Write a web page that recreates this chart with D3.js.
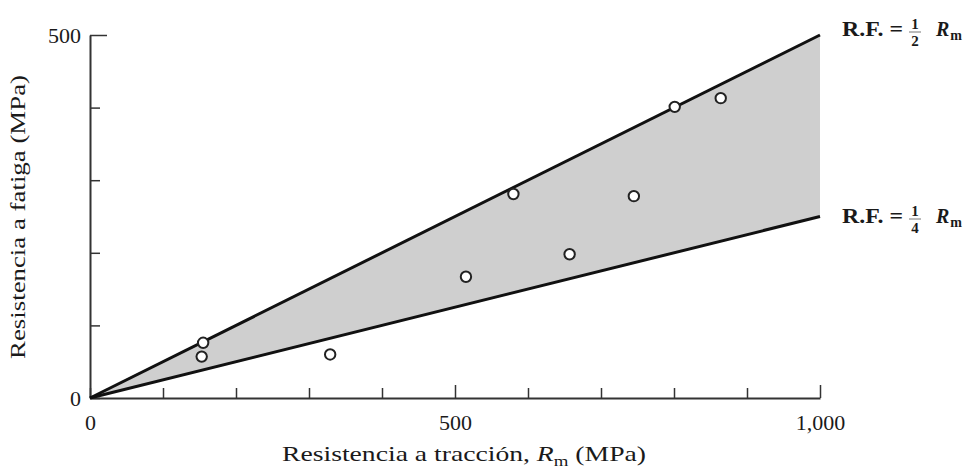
<!DOCTYPE html>
<html><head><meta charset="utf-8">
<script src="https://cdn.jsdelivr.net/npm/d3@7"></script>
<style>
html,body{margin:0;padding:0;background:#fff;}
text{font-family:"Liberation Serif","DejaVu Serif",serif;fill:#1a1a1a;}
</style></head>
<body><svg id="c" width="976" height="469"></svg>
<script>
// data
const tensile = [155, 153, 329, 515, 580, 657, 745, 801, 864];
const fatigue = [76, 57, 60, 167, 281, 198, 278, 401, 413];
const xTicks = [0,100,200,300,400,500,600,700,800,900,1000];
const xLabels = [0, 500, 1000];
const yTicks = [0,100,200,300,400,500];
const yLabels = [0, 500];
const ratioHigh = 0.5, ratioLow = 0.25;
const rangeX = [0, 1000];

const svg = d3.select("#c");
const x = d3.scaleLinear().domain([0,1000]).range([90,820]);
const y = d3.scaleLinear().domain([0,500]).range([398,35]);

// band
const area = d3.area().x(d=>x(d)).y0(d=>y(d*ratioLow)).y1(d=>y(d*ratioHigh));
svg.append("path").datum(rangeX).attr("d", area).attr("fill","#cfcfcf");

// axes
const fmt = d3.format(",");
const xa = svg.append("g").attr("transform","translate(0,398)")
  .call(d3.axisBottom(x).tickValues(xTicks).tickSizeOuter(0).tickSizeInner(-10).tickPadding(0)
    .tickFormat(d=>xLabels.includes(d)?fmt(d):""));
xa.selectAll(".tick line").attr("y2", d=>xLabels.includes(d)&&d>0?-13:-10);
xa.selectAll(".tick text").attr("y",32).attr("dy",0);
const ya = svg.append("g").attr("transform","translate(90,0)")
  .call(d3.axisLeft(y).tickValues(yTicks).tickSizeOuter(0).tickSizeInner(-10).tickPadding(9)
    .tickFormat(d=>yLabels.includes(d)?fmt(d):""));
ya.selectAll(".tick line").attr("x2", d=>d===500?17:10);
[xa,ya].forEach(g=>{
  g.select(".domain").attr("stroke","#333").attr("stroke-width",2);
  g.selectAll(".tick line").attr("stroke","#333").attr("stroke-width",1.5);
  g.selectAll(".tick text").attr("font-size",22).attr("fill","#1a1a1a")
   .attr("font-family","Liberation Serif, serif");
});
ya.selectAll(".tick text").attr("dy","0.33em");

// lines
const line = r => d3.line().x(d=>x(d)).y(d=>y(d*r));
svg.append("path").datum(rangeX).attr("d", line(ratioHigh)).attr("stroke","#111").attr("stroke-width",3).attr("fill","none");
svg.append("path").datum(rangeX).attr("d", line(ratioLow)).attr("stroke","#111").attr("stroke-width",3).attr("fill","none");

// points
svg.append("g").selectAll("circle").data(tensile.map((t,i)=>[t,fatigue[i]])).join("circle")
  .attr("cx",d=>x(d[0])).attr("cy",d=>y(d[1])).attr("r",5.2)
  .attr("fill","#fff").attr("stroke","#222").attr("stroke-width",2);

// axis titles
svg.append("text").attr("transform","translate(25,217) rotate(-90)").attr("text-anchor","middle")
  .attr("font-size",22).attr("textLength",284).attr("lengthAdjust","spacingAndGlyphs")
  .text("Resistencia a fatiga (MPa)");
const xt = svg.append("text").attr("x",282).attr("y",461).attr("font-size",22)
  .attr("textLength",364).attr("lengthAdjust","spacingAndGlyphs");
xt.append("tspan").text("Resistencia a tracción, ");
xt.append("tspan").attr("font-style","italic").text("R");
xt.append("tspan").attr("font-size",15).attr("dy",5).text("m");
xt.append("tspan").attr("dy",-5).text(" (MPa)");

// line labels
function rfLabel(yBase, denom){
  const g = svg.append("g");
  g.append("text").attr("x",842).attr("y",yBase).attr("font-size",20).attr("font-weight","bold")
    .attr("textLength",61).attr("lengthAdjust","spacingAndGlyphs").text("R.F. =");
  g.append("text").attr("x",915).attr("y",yBase-7).attr("font-size",15).attr("font-weight","bold").attr("text-anchor","middle").text("1");
  g.append("line").attr("x1",909).attr("x2",921).attr("y1",yBase-4).attr("y2",yBase-4).attr("stroke","#777").attr("stroke-width",1);
  g.append("text").attr("x",915).attr("y",yBase+10).attr("font-size",15).attr("font-weight","bold").attr("text-anchor","middle").text(denom);
  const t = g.append("text").attr("x",936).attr("y",yBase).attr("font-size",20).attr("font-weight","bold");
  t.append("tspan").attr("font-style","italic").text("R");
  t.append("tspan").attr("font-size",14).attr("dy",4).attr("dx",1).text("m");
}
rfLabel(36, "2");
rfLabel(223, "4");
</script></body></html>
